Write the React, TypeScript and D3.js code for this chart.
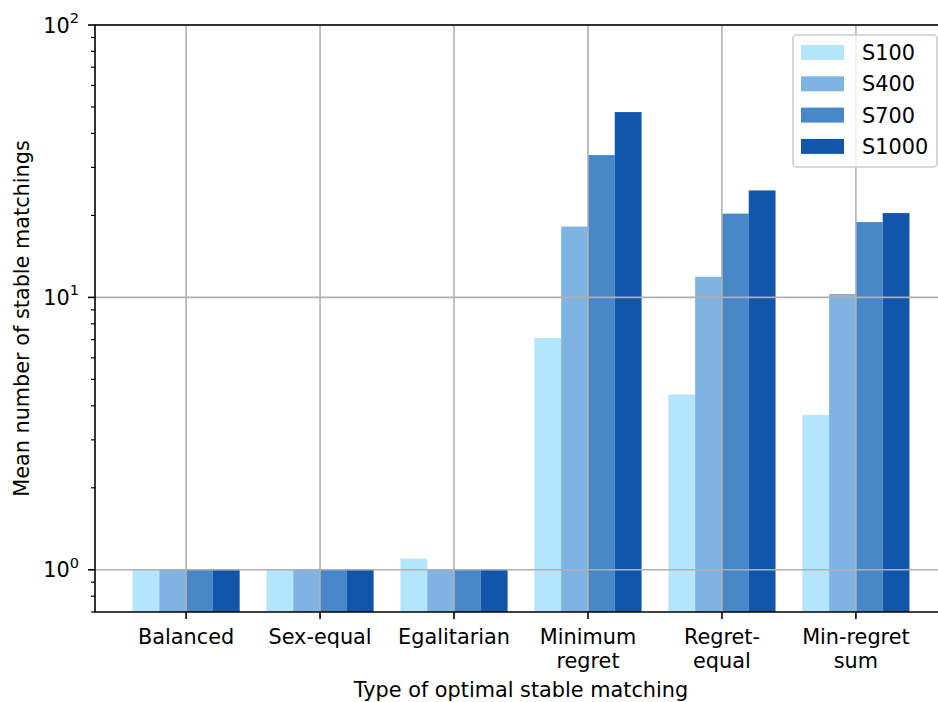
import * as d3 from 'd3'

const categories = ['Balanced', 'Sex-equal', 'Egalitarian', 'Minimum\nregret', 'Regret-\nequal', 'Min-regret\nsum']
const seriesNames = ['S100', 'S400', 'S700', 'S1000']
const s100 = [1.0, 1.0, 1.1, 7.1, 4.4, 3.7]
const s400 = [1.0, 1.0, 1.0, 18.2, 11.9, 10.3]
const s700 = [1.0, 1.0, 1.0, 33.3, 20.3, 18.9]
const s1000 = [1.0, 1.0, 1.0, 47.9, 24.7, 20.4]
const colors = ['#b3e5fc', '#7fb3e1', '#4787c7', '#1156ab']
const majorTicks = [1, 10, 100]
const majorExp = ['0', '1', '2']

const W = 938
const H = 702
const left = 95
const right = 947
const top = 25
const bottom = 612
const font = 'DejaVu Sans, sans-serif'
const fs = 20.8

export default function App() {
  const series = [s100, s400, s700, s1000]
  const x = d3.scaleLinear().domain([-0.68, categories.length - 1 + 0.68]).range([left, right])
  const y = d3.scaleLog().domain([0.7, 100]).range([bottom, top])
  const barW = 0.2
  const minor: number[] = []
  for (const dec of [0.1, 1, 10]) {
    for (let k = 2; k <= 9; k++) {
      const v = dec * k
      if (v >= 0.7 && v <= 100) minor.push(v)
    }
  }

  return (
    <svg
      width={W}
      height={H}
      style={{ position: 'absolute', left: 0, top: 0, background: '#fff' }}
      fontFamily={font}
    >
      {/* bars */}
      {series.map((vals, si) =>
        vals.map((v, ci) => {
          const x0 = x(ci + (si - 2) * barW)
          const x1 = x(ci + (si - 1) * barW)
          return (
            <rect
              key={`${si}-${ci}`}
              x={x0}
              y={y(v)}
              width={x1 - x0}
              height={bottom - y(v)}
              fill={colors[si]}
            />
          )
        })
      )}

      {/* grid, drawn over the bars */}
      <g stroke="#b0b0b0" strokeWidth={1.6}>
        {categories.map((_, i) => (
          <line key={i} x1={x(i)} x2={x(i)} y1={top} y2={bottom} />
        ))}
        {majorTicks.map(t => (
          <line key={t} x1={left} x2={right} y1={y(t)} y2={y(t)} />
        ))}
      </g>

      {/* spines */}
      <g stroke="#000" strokeWidth={1.6} fill="none">
        <line x1={left} x2={left} y1={top} y2={bottom} />
        <line x1={left - 0.8} x2={right} y1={bottom} y2={bottom} />
        <line x1={left - 0.8} x2={right} y1={top} y2={top} />
      </g>

      {/* y ticks */}
      <g stroke="#000" strokeWidth={1.6}>
        {majorTicks.map(t => (
          <line key={t} x1={left - 7} x2={left} y1={y(t)} y2={y(t)} />
        ))}
      </g>
      <g stroke="#000" strokeWidth={1.2}>
        {minor.map(t => (
          <line key={t} x1={left - 4} x2={left} y1={y(t)} y2={y(t)} />
        ))}
      </g>
      {majorTicks.map((t, i) => (
        <text key={t} x={left - 16} y={y(t) + 7.5} textAnchor="end" fontSize={fs}>
          10
          <tspan dy={-9.5} fontSize={fs * 0.7}>
            {majorExp[i]}
          </tspan>
        </text>
      ))}

      {/* x ticks */}
      <g stroke="#000" strokeWidth={1.6}>
        {categories.map((_, i) => (
          <line key={i} x1={x(i)} x2={x(i)} y1={bottom} y2={bottom + 7} />
        ))}
      </g>
      {categories.map((c, i) => (
        <text key={c} x={x(i)} y={644} textAnchor="middle" fontSize={fs}>
          {c.split('\n').map((line, li) => (
            <tspan key={li} x={x(i)} dy={li === 0 ? 0 : 23.5}>
              {line}
            </tspan>
          ))}
        </text>
      ))}

      {/* axis labels */}
      <text x={(left + 947) / 2} y={697} textAnchor="middle" fontSize={fs}>
        Type of optimal stable matching
      </text>
      <text
        transform={`translate(29, ${(top + bottom) / 2}) rotate(-90)`}
        textAnchor="middle"
        fontSize={fs}
      >
        Mean number of stable matchings
      </text>

      {/* legend */}
      <g>
        <rect
          x={793}
          y={35}
          width={144}
          height={132}
          rx={4}
          fill="#fff"
          fillOpacity={0.8}
          stroke="#cccccc"
          strokeWidth={1.6}
        />
        {seriesNames.map((s, i) => (
          <g key={s} transform={`translate(0, ${52.5 + i * 31.3})`}>
            <rect x={801} y={-7.5} width={43} height={15} fill={colors[i]} />
            <text x={862} y={7.5} fontSize={fs}>
              {s}
            </text>
          </g>
        ))}
      </g>
    </svg>
  )
}
